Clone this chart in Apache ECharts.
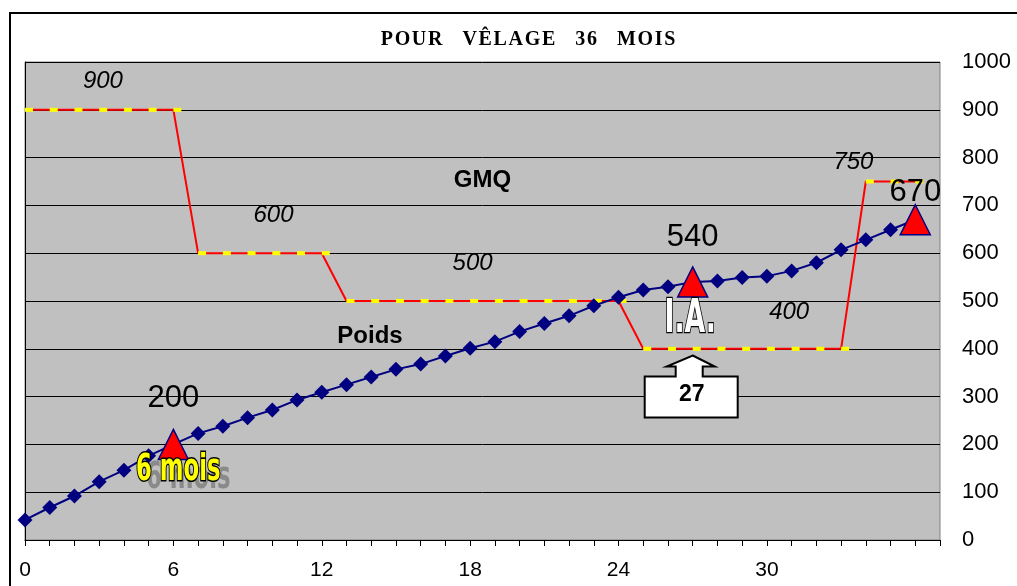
<!DOCTYPE html>
<html><head><meta charset="utf-8">
<script src="https://cdn.jsdelivr.net/npm/echarts@6/dist/echarts.min.js"></script>
<style>html,body{margin:0;padding:0;background:#fff}#c{width:1017px;height:586px}</style>
</head><body><div id="c"></div>
<script>
// ---- data ----
const titleText = 'POUR VÊLAGE 36 MOIS';
const months = [0,1,2,3,4,5,6,7,8,9,10,11,12,13,14,15,16,17,18,19,20,21,22,23,24,25,26,27,28,29,30,31,32,33,34,35,36];
const poids = [42,68,92,122,146,176,200,223,238,256,272,293,309,325,341,357,368,385,401,415,436,453,469,490,508,523,530,540,542,549,552,563,580,607,628,649,670];
const gmq = [900,900,900,900,900,900,900,600,600,600,600,600,600,500,500,500,500,500,500,500,500,500,500,500,500,400,400,400,400,400,400,400,400,400,750,750,750];
const keyMonths = [6,27,36];             // triangles with weight labels
const xTickLabels = [0,6,12,18,24,30];
const yTicks = [0,100,200,300,400,500,600,700,800,900,1000];
const gmqNotes = ['900','600','500','400','750'];
const seriesNames = ['GMQ','Poids'];
const iaText = 'I.A.';
const sixText = '6 mois';
const iaMonth = '27';

// ---- layout (data-coordinate anchors for annotations) ----
const gmqNoteAnchors = [[3.15,960],[10.05,680],[18.1,578],[30.9,476],[33.5,790]];
const nameAnchors = [[18.5,753],[13.95,425]];
const iaAnchor = [26.9,460];
const sixAnchor = [6.2,146];
const calloutAnchor = [27,386];
const labelOffsets = {6:[0,-46],27:[0,-44],36:[0,-27]};

const chart = echarts.init(document.getElementById('c'));

const poidsData = months.map((m,i)=>{
  if (keyMonths.indexOf(m) >= 0) {
    return {
      value:[m,poids[i]], symbol:'triangle', symbolSize:[30,30],
      itemStyle:{color:'#ff0000', borderColor:'#000080', borderWidth:1.5},
      label:{show:true, position:'inside', offset:labelOffsets[m], formatter:String(poids[i]),
        fontFamily:'Liberation Sans', fontSize:31, color:'#000'}
    };
  }
  return [m,poids[i]];
});

const option = {
  animation:false,
  backgroundColor:'#ffffff',
  grid:{left:25, right:77, top:62, bottom:46, show:true, backgroundColor:'#c0c0c0', borderColor:'#808080', borderWidth:1},
  xAxis:{type:'value', min:0, max:37, interval:1,
    axisLine:{show:true, onZero:false, lineStyle:{color:'#000', width:1}},
    axisTick:{show:true, length:6, lineStyle:{color:'#000'}},
    splitLine:{show:false},
    axisLabel:{margin:20, fontFamily:'Liberation Sans', fontSize:21, color:'#000',
      formatter:v=> xTickLabels.indexOf(v)>=0 ? String(v) : ''}
  },
  yAxis:{type:'value', position:'right', min:0, max:1000, interval:100,
    axisLine:{show:true, lineStyle:{color:'#000', width:1}},
    axisTick:{show:true, length:6, lineStyle:{color:'#000'}},
    splitLine:{show:true, lineStyle:{color:'#000', width:1}},
    axisLabel:{margin:22, fontFamily:'Liberation Sans', fontSize:22, color:'#000',
      formatter:v=> yTicks.indexOf(v)>=0 ? String(v) : ''}
  },
  series:[
    {name:seriesNames[0], type:'line', data:months.map((m,i)=>[m,gmq[i]]),
      lineStyle:{color:'#ff0000', width:2}, symbol:'rect', symbolSize:[8,4], symbolOffset:[4,0],
      itemStyle:{color:'#ffff00', borderWidth:0}, showSymbol:true, z:2},
    {name:seriesNames[1], type:'line', data:poidsData,
      lineStyle:{color:'#000080', width:2}, symbol:'diamond', symbolSize:15,
      itemStyle:{color:'#000080'}, z:3}
  ]
};
chart.setOption(option);

function px(p){ return chart.convertToPixel({gridIndex:0}, p); }

const g = [];
g.push({type:'rect', shape:{x:10,y:13,width:1030,height:600}, style:{fill:'none', stroke:'#000', lineWidth:2}, z:1, silent:true});
const spacedTitle = titleText.split(' ').map(w=>w.split('').join('\u200A')).join('    ');
g.push({type:'text', x:528, y:40, style:{text:spacedTitle, font:'bold 20px "Liberation Serif"', fill:'#000', textAlign:'center', textVerticalAlign:'middle'}, z:10});
gmqNotes.forEach((t,i)=>{
  const p = px(gmqNoteAnchors[i]);
  g.push({type:'text', x:p[0], y:p[1], style:{text:t, font:'italic 24px "Liberation Sans"', fill:'#000', textAlign:'center', textVerticalAlign:'middle'}, z:10});
});
seriesNames.forEach((t,i)=>{
  const p = px(nameAnchors[i]);
  g.push({type:'text', x:p[0], y:p[1], style:{text:t, font:'bold 24px "Liberation Sans"', fill:'#000', textAlign:'center', textVerticalAlign:'middle'}, z:10});
});
// I.A.
(function(){
  const p = px(iaAnchor);
  g.push({type:'text', x:p[0], y:p[1], scaleX:0.58, style:{text:iaText, font:'bold 46px "DejaVu Sans"', fill:'#ffffff', stroke:'#000', lineWidth:2.5, textAlign:'center', textVerticalAlign:'middle'}, z:11});
})();
// 6 mois with shadow
(function(){
  const p = px(sixAnchor);
  g.push({type:'text', x:p[0]+10, y:p[1]+8, scaleX:0.6, style:{text:sixText, font:'bold 38px "DejaVu Sans"', fill:'#8a8a8a', textAlign:'center', textVerticalAlign:'middle'}, z:10});
  g.push({type:'text', x:p[0], y:p[1], scaleX:0.6, style:{text:sixText, font:'bold 38px "DejaVu Sans"', fill:'#ffff00', stroke:'#000', lineWidth:3, textAlign:'center', textVerticalAlign:'middle'}, z:11});
})();
// callout arrow with box
(function(){
  const p = px(calloutAnchor);
  const o = [[0,0],[22,11],[10,11],[10,21],[45,21],[45,62],[-48,62],[-48,21],[-17,21],[-17,11],[-26,11]];
  g.push({type:'polygon', shape:{points:o.map(q=>[p[0]+q[0], p[1]+q[1]])}, style:{fill:'#fff', stroke:'#000', lineWidth:2}, z:10});
  g.push({type:'text', x:p[0]-1, y:p[1]+39, style:{text:iaMonth, font:'bold 23px "Liberation Sans"', fill:'#000', textAlign:'center', textVerticalAlign:'middle'}, z:11});
})();
chart.setOption({graphic:g});
</script></body></html>
